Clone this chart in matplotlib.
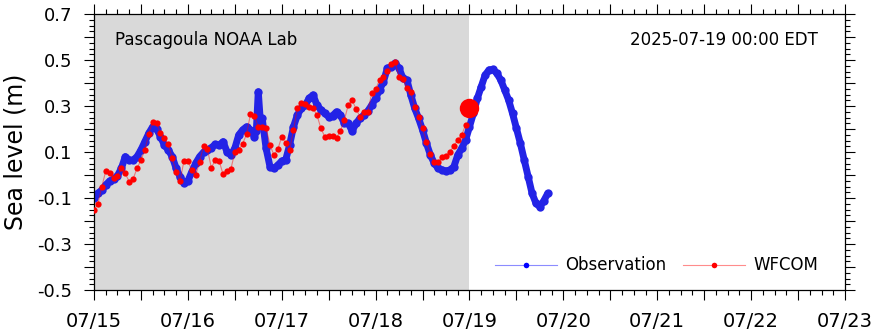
import numpy as np
import matplotlib
matplotlib.use('Agg')
import matplotlib.pyplot as plt
import matplotlib.dates as mdates
from matplotlib.lines import Line2D
from matplotlib.ticker import MultipleLocator, FuncFormatter

start = np.datetime64('2025-07-15T00:00')
nowcast = np.datetime64('2025-07-19T00:00')

# observed water level, hourly (hours since 07/15 00:00)
obs_hours = [0, 1, 2, 3, 4, 5, 6, 7, 8, 9, 10, 11, 12, 13, 14, 15, 16, 17, 18, 19,
             20, 21, 22, 23, 24, 25, 26, 27, 28, 29, 30, 31, 32, 33, 34, 35, 36, 37, 38, 39,
             40, 41, 41.5, 42, 42.5, 43, 44, 45, 46, 47, 48, 49, 50, 51, 52, 53, 54, 55, 56, 57,
             58, 59, 60, 61, 62, 63, 64, 65, 66, 67, 68, 69, 70, 71, 72, 73, 74, 75, 76, 77,
             78, 79, 80, 81, 82, 83, 84, 85, 86, 87, 88, 89, 90, 91, 92, 93, 94, 95, 96, 97,
             98, 99, 100, 101, 102, 103, 104, 105, 106, 107, 108, 109, 110, 111, 112, 113, 114, 115, 116]
obs_level = [-0.101, -0.080, -0.065, -0.043, -0.026, -0.017, -0.003, 0.029, 0.080, 0.065,
             0.065, 0.080, 0.109, 0.145, 0.181, 0.210, 0.200, 0.167, 0.130, 0.109,
             0.080, 0.029, -0.007, -0.036, -0.026, 0.014, 0.051, 0.080, 0.099, 0.109,
             0.119, 0.133, 0.130, 0.145, 0.101, 0.087, 0.116, 0.174, 0.196, 0.210,
             0.196, 0.167, 0.190, 0.362, 0.240, 0.246, 0.116, 0.036, 0.029, 0.043,
             0.061, 0.065, 0.130, 0.210, 0.261, 0.290, 0.304, 0.333, 0.348, 0.304,
             0.283, 0.268, 0.254, 0.258, 0.275, 0.261, 0.225, 0.225, 0.191, 0.225,
             0.246, 0.261, 0.278, 0.304, 0.333, 0.370, 0.406, 0.464, 0.471, 0.486,
             0.464, 0.420, 0.413, 0.348, 0.290, 0.246, 0.196, 0.138, 0.087, 0.051,
             0.029, 0.022, 0.017, 0.022, 0.036, 0.087, 0.116, 0.152, 0.210, 0.268,
             0.333, 0.384, 0.435, 0.457, 0.459, 0.442, 0.413, 0.370, 0.326, 0.268,
             0.203, 0.138, 0.065, -0.007, -0.080, -0.123, -0.138, -0.112, -0.080]

# WFCOM nowcast/hindcast, hourly
model_hours = list(range(0, 97))
model_level = [-0.152, -0.127, -0.051, 0.017, 0.010, -0.012, -0.003, 0.029, 0.007, -0.029,
               -0.017, 0.029, 0.065, 0.109, 0.178, 0.232, 0.225, 0.181, 0.160, 0.133,
               0.073, 0.014, -0.026, 0.061, 0.061, 0.022, 0.000, 0.058, 0.126, 0.112,
               0.032, 0.064, 0.061, 0.003, 0.017, 0.026, 0.099, 0.109, 0.136, 0.177,
               0.264, 0.257, 0.210, 0.210, 0.205, 0.130, 0.087, 0.112, 0.167, 0.138,
               0.107, 0.196, 0.290, 0.312, 0.307, 0.297, 0.290, 0.261, 0.203, 0.167,
               0.171, 0.168, 0.162, 0.191, 0.239, 0.304, 0.326, 0.287, 0.254, 0.273,
               0.275, 0.355, 0.373, 0.413, 0.427, 0.452, 0.481, 0.490, 0.427, 0.417,
               0.377, 0.362, 0.297, 0.254, 0.203, 0.145, 0.090, 0.055, 0.055, 0.080,
               0.084, 0.101, 0.127, 0.152, 0.174, 0.217, 0.293]

obs_t = start + (np.array(obs_hours) * 60).astype('timedelta64[m]')
mod_t = start + (np.array(model_hours) * 60).astype('timedelta64[m]')

fig = plt.figure(figsize=(8.76, 3.34), dpi=100)
ax = fig.add_axes([0.1073, 0.1317, 0.8573, 0.8263])

ax.axvspan(start, nowcast, color='#d9d9d9', zorder=0, lw=0)

ax.plot(obs_t, obs_level, color='#2323e6', lw=5, marker='o', ms=6, mew=0,
        solid_capstyle='round', solid_joinstyle='round', zorder=2)
ax.plot(mod_t[:-1], model_level[:-1], color='red', lw=0.8, alpha=0.45, zorder=3)
ax.plot(mod_t[:-1], model_level[:-1], ls='none', marker='o', ms=4.5, mew=0, color='red', zorder=3)
ax.plot(mod_t[-1], model_level[-1], ls='none', marker='o', ms=14, mew=0, color='red', zorder=4)

ax.set_xlim(start, np.datetime64('2025-07-23T00:00'))
ax.set_ylim(-0.5, 0.7)

ax.xaxis.set_major_locator(mdates.HourLocator(byhour=[0, 12]))
ax.xaxis.set_major_formatter(FuncFormatter(
    lambda v, p: mdates.num2date(v).strftime('%m/%d') if mdates.num2date(v).hour == 0 else ''))
ax.xaxis.set_minor_locator(mdates.HourLocator(byhour=range(0, 24, 3)))

ax.yaxis.set_major_locator(MultipleLocator(0.1))
ax.yaxis.set_major_formatter(FuncFormatter(
    lambda v, p: '%.1f' % v if int(round(v * 10)) % 2 else ''))
ax.yaxis.set_minor_locator(MultipleLocator(0.025))

ax.tick_params(which='both', direction='out', top=True, right=True, width=0.8, color='black')
ax.tick_params(which='major', length=7.5)
ax.tick_params(which='minor', length=3.8)
ax.tick_params(axis='x', which='major', labelsize=14, pad=8)
ax.tick_params(axis='y', which='major', labelsize=13, pad=8)
for s in ax.spines.values():
    s.set_linewidth(0.9)

ax.set_ylabel('Sea level (m)', fontsize=17)
ax.yaxis.set_label_coords(-0.088, 0.5)

ax.text(0.028, 0.906, 'Pascagoula NOAA Lab', transform=ax.transAxes, fontsize=12,
        ha='left', va='center')
ax.text(0.964, 0.906, '2025-07-19 00:00 EDT', transform=ax.transAxes, fontsize=12,
        ha='right', va='center')

# legend keys: light thin line with a solid dot
handles = [Line2D([], [], color='#8c8cff', lw=0.8, marker='o', ms=4,
                  markerfacecolor='blue', markeredgecolor='blue', markeredgewidth=0),
           Line2D([], [], color='#ff8c8c', lw=0.8, marker='o', ms=4,
                  markerfacecolor='red', markeredgecolor='red', markeredgewidth=0)]
ax.legend(handles, ['Observation', 'WFCOM'], loc='lower right', ncol=2, frameon=False,
          fontsize=12, handlelength=3.7, handletextpad=0.5, columnspacing=1.0,
          bbox_to_anchor=(0.984, 0.002))

fig.savefig('out.png', dpi=100)
